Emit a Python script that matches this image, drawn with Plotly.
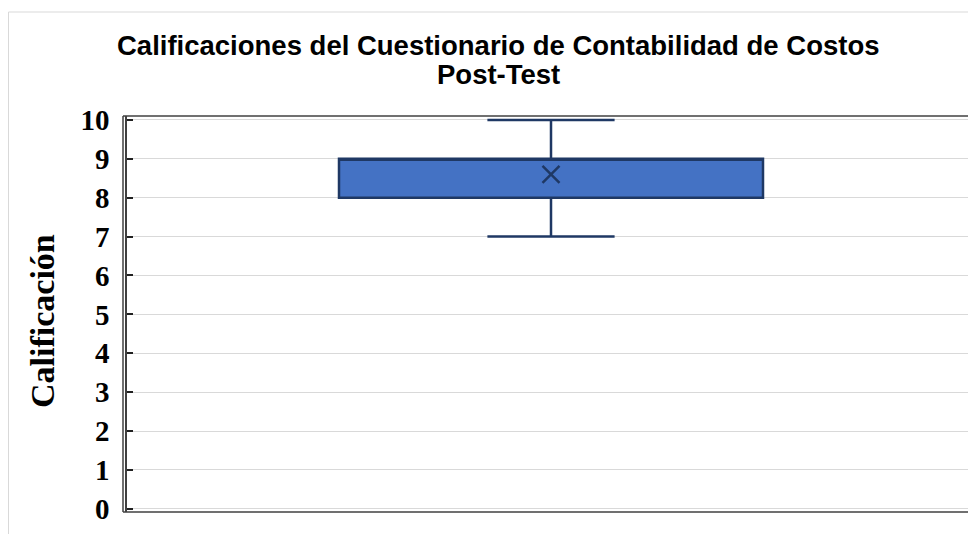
import plotly.graph_objects as go

# Data
categories = ["Post-Test"]
q1 = [8]
median = [9]
q3 = [9]
lower_fence = [7]
upper_fence = [10]
mean = [8.6]
tick_vals = list(range(0, 11))
tick_text = [str(v) for v in tick_vals]
title_lines = ["Calificaciones del Cuestionario de Contabilidad de Costos", "Post-Test"]
y_title = "Calificación"

# Page has an 8px body margin, so figure coords = page coords - 8
W, H = 968, 526
L, R, T, B = 119, 1, 108, 22
PW = W - L - R
PH = H - T - B

def px(x):
    return (x - L) / PW

def py(y):
    return (H - B - y) / PH

navy = "#1f3864"
border = "#404040"
fig = go.Figure()
fig.add_trace(go.Box(
    x=categories, q1=q1, median=median, q3=q3,
    lowerfence=lower_fence, upperfence=upper_fence,
    fillcolor="#4472c4", line=dict(color=navy, width=2.5),
    width=0.5, whiskerwidth=0.3, boxpoints=False, showlegend=False,
    hoverinfo="skip",
))
fig.add_trace(go.Scatter(
    x=categories, y=mean, mode="markers",
    marker=dict(symbol="x-thin", size=17, line=dict(color=navy, width=2.5)),
    showlegend=False, hoverinfo="skip",
))

shapes = [
    # outer light frame
    dict(type="line", xref="paper", yref="paper", x0=px(0.5), x1=px(0.5), y0=py(4), y1=py(530),
         line=dict(color="#d9d9d9", width=1)),
    dict(type="line", xref="paper", yref="paper", x0=px(0.5), x1=px(975), y0=py(4), y1=py(4),
         line=dict(color="#d9d9d9", width=1)),
    # plot area border (double line on left)
    dict(type="line", xref="paper", yref="paper", x0=px(115), x1=px(115), y0=py(108), y1=py(504),
         line=dict(color=border, width=1.5)),
    dict(type="line", xref="paper", yref="paper", x0=px(115), x1=px(967), y0=py(504), y1=py(504),
         line=dict(color=border, width=1.5)),
    dict(type="line", xref="paper", yref="paper", x0=px(115), x1=px(967), y0=py(108), y1=py(108),
         line=dict(color=border, width=1.5)),
    dict(type="line", xref="paper", yref="paper", x0=px(966.5), x1=px(966.5), y0=py(108), y1=py(504),
         line=dict(color=border, width=1)),
]

title_font = dict(family="Liberation Sans, Arial", size=27.5, color="black", weight="bold")
annotations = [
    dict(text=title_lines[0], xref="paper", yref="paper", x=px(490.5), y=py(37),
         xanchor="center", yanchor="middle", showarrow=False, font=title_font),
    dict(text=title_lines[1], xref="paper", yref="paper", x=px(490.5), y=py(67),
         xanchor="center", yanchor="middle", showarrow=False, font=title_font),
    dict(text=y_title, textangle=-90, xref="paper", yref="paper",
         x=px(34), y=py(313), xanchor="center", yanchor="middle", showarrow=False,
         font=dict(family="Liberation Serif, Times New Roman", size=34, color="black", weight="bold")),
]

fig.update_layout(
    width=W, height=H,
    margin=dict(l=L, r=R, t=T, b=B),
    paper_bgcolor="white", plot_bgcolor="white",
    xaxis=dict(showticklabels=False, showgrid=False, zeroline=False, showline=False,
               range=[-0.5, 0.5], fixedrange=True),
    yaxis=dict(
        range=[-0.08, 10.1], tickvals=tick_vals, ticktext=tick_text,
        showgrid=True, gridcolor="#d9d9d9", gridwidth=1, zeroline=False,
        showline=True, linecolor=border, linewidth=1.5,
        ticks="inside", ticklen=6, tickcolor="#202020", tickwidth=1.5,
        tickfont=dict(family="Liberation Serif, Times New Roman", size=29, color="black", weight="bold"),
        ticklabelstandoff=10,
    ),
    shapes=shapes,
    annotations=annotations,
)

fig.write_html("out.html")
